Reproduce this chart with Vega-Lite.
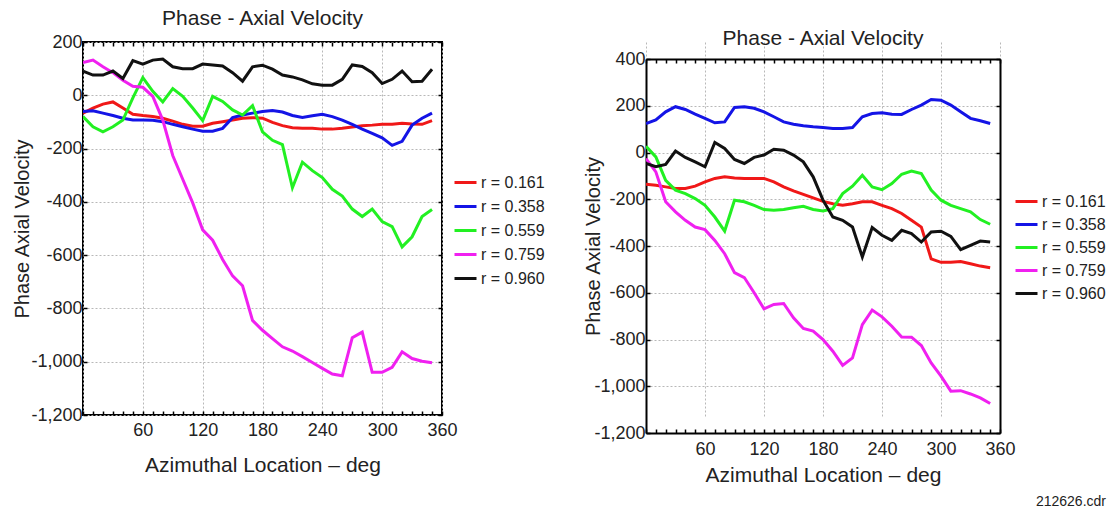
{
"$schema": "https://vega.github.io/schema/vega-lite/v6.json",
"background": "white",
"padding": {"left": 11, "top": 7, "right": 5, "bottom": 5},
"title": {"text": "212626.cdr", "orient": "bottom", "anchor": "end", "fontSize": 14, "font": "Liberation Sans", "fontWeight": "normal", "color": "#222", "offset": 10},
"datasets": {
"left": [
{"r":"r = 0.161","az":0,"v":-67},{"r":"r = 0.161","az":10,"v":-48},{"r":"r = 0.161","az":20,"v":-33},{"r":"r = 0.161","az":30,"v":-25},{"r":"r = 0.161","az":40,"v":-48},{"r":"r = 0.161","az":50,"v":-71},{"r":"r = 0.161","az":60,"v":-76},{"r":"r = 0.161","az":70,"v":-80},{"r":"r = 0.161","az":80,"v":-86},{"r":"r = 0.161","az":90,"v":-97},{"r":"r = 0.161","az":100,"v":-109},{"r":"r = 0.161","az":110,"v":-116},{"r":"r = 0.161","az":120,"v":-116},{"r":"r = 0.161","az":130,"v":-105},{"r":"r = 0.161","az":140,"v":-99},{"r":"r = 0.161","az":150,"v":-93},{"r":"r = 0.161","az":160,"v":-86},{"r":"r = 0.161","az":170,"v":-84},{"r":"r = 0.161","az":180,"v":-86},{"r":"r = 0.161","az":190,"v":-102},{"r":"r = 0.161","az":200,"v":-114},{"r":"r = 0.161","az":210,"v":-122},{"r":"r = 0.161","az":220,"v":-124},{"r":"r = 0.161","az":230,"v":-124},{"r":"r = 0.161","az":240,"v":-127},{"r":"r = 0.161","az":250,"v":-127},{"r":"r = 0.161","az":260,"v":-124},{"r":"r = 0.161","az":270,"v":-119},{"r":"r = 0.161","az":280,"v":-114},{"r":"r = 0.161","az":290,"v":-112},{"r":"r = 0.161","az":300,"v":-109},{"r":"r = 0.161","az":310,"v":-109},{"r":"r = 0.161","az":320,"v":-105},{"r":"r = 0.161","az":330,"v":-108},{"r":"r = 0.161","az":340,"v":-109},{"r":"r = 0.161","az":350,"v":-95},
{"r":"r = 0.358","az":0,"v":-61},{"r":"r = 0.358","az":10,"v":-58},{"r":"r = 0.358","az":20,"v":-67},{"r":"r = 0.358","az":30,"v":-76},{"r":"r = 0.358","az":40,"v":-86},{"r":"r = 0.358","az":50,"v":-93},{"r":"r = 0.358","az":60,"v":-93},{"r":"r = 0.358","az":70,"v":-94},{"r":"r = 0.358","az":80,"v":-99},{"r":"r = 0.358","az":90,"v":-109},{"r":"r = 0.358","az":100,"v":-118},{"r":"r = 0.358","az":110,"v":-127},{"r":"r = 0.358","az":120,"v":-135},{"r":"r = 0.358","az":130,"v":-135},{"r":"r = 0.358","az":140,"v":-124},{"r":"r = 0.358","az":150,"v":-84},{"r":"r = 0.358","az":160,"v":-74},{"r":"r = 0.358","az":170,"v":-67},{"r":"r = 0.358","az":180,"v":-61},{"r":"r = 0.358","az":190,"v":-57},{"r":"r = 0.358","az":200,"v":-63},{"r":"r = 0.358","az":210,"v":-76},{"r":"r = 0.358","az":220,"v":-83},{"r":"r = 0.358","az":230,"v":-77},{"r":"r = 0.358","az":240,"v":-71},{"r":"r = 0.358","az":250,"v":-80},{"r":"r = 0.358","az":260,"v":-93},{"r":"r = 0.358","az":270,"v":-109},{"r":"r = 0.358","az":280,"v":-127},{"r":"r = 0.358","az":290,"v":-143},{"r":"r = 0.358","az":300,"v":-160},{"r":"r = 0.358","az":310,"v":-188},{"r":"r = 0.358","az":320,"v":-173},{"r":"r = 0.358","az":330,"v":-112},{"r":"r = 0.358","az":340,"v":-86},{"r":"r = 0.358","az":350,"v":-67},
{"r":"r = 0.559","az":0,"v":-80},{"r":"r = 0.559","az":10,"v":-118},{"r":"r = 0.559","az":20,"v":-137},{"r":"r = 0.559","az":30,"v":-118},{"r":"r = 0.559","az":40,"v":-93},{"r":"r = 0.559","az":50,"v":-10},{"r":"r = 0.559","az":60,"v":66},{"r":"r = 0.559","az":70,"v":15},{"r":"r = 0.559","az":80,"v":-25},{"r":"r = 0.559","az":90,"v":25},{"r":"r = 0.559","az":100,"v":-4},{"r":"r = 0.559","az":110,"v":-48},{"r":"r = 0.559","az":120,"v":-95},{"r":"r = 0.559","az":130,"v":-4},{"r":"r = 0.559","az":140,"v":-23},{"r":"r = 0.559","az":150,"v":-55},{"r":"r = 0.559","az":160,"v":-74},{"r":"r = 0.559","az":170,"v":-39},{"r":"r = 0.559","az":180,"v":-137},{"r":"r = 0.559","az":190,"v":-169},{"r":"r = 0.559","az":200,"v":-185},{"r":"r = 0.559","az":210,"v":-347},{"r":"r = 0.559","az":220,"v":-251},{"r":"r = 0.559","az":230,"v":-283},{"r":"r = 0.559","az":240,"v":-309},{"r":"r = 0.559","az":250,"v":-353},{"r":"r = 0.559","az":260,"v":-378},{"r":"r = 0.559","az":270,"v":-427},{"r":"r = 0.559","az":280,"v":-455},{"r":"r = 0.559","az":290,"v":-427},{"r":"r = 0.559","az":300,"v":-474},{"r":"r = 0.559","az":310,"v":-493},{"r":"r = 0.559","az":320,"v":-569},{"r":"r = 0.559","az":330,"v":-531},{"r":"r = 0.559","az":340,"v":-455},{"r":"r = 0.559","az":350,"v":-429},
{"r":"r = 0.759","az":0,"v":123},{"r":"r = 0.759","az":10,"v":132},{"r":"r = 0.759","az":20,"v":107},{"r":"r = 0.759","az":30,"v":85},{"r":"r = 0.759","az":40,"v":56},{"r":"r = 0.759","az":50,"v":34},{"r":"r = 0.759","az":60,"v":30},{"r":"r = 0.759","az":70,"v":-4},{"r":"r = 0.759","az":80,"v":-93},{"r":"r = 0.759","az":90,"v":-226},{"r":"r = 0.759","az":100,"v":-315},{"r":"r = 0.759","az":110,"v":-404},{"r":"r = 0.759","az":120,"v":-505},{"r":"r = 0.759","az":130,"v":-544},{"r":"r = 0.759","az":140,"v":-616},{"r":"r = 0.759","az":150,"v":-678},{"r":"r = 0.759","az":160,"v":-715},{"r":"r = 0.759","az":170,"v":-845},{"r":"r = 0.759","az":180,"v":-882},{"r":"r = 0.759","az":190,"v":-913},{"r":"r = 0.759","az":200,"v":-944},{"r":"r = 0.759","az":210,"v":-960},{"r":"r = 0.759","az":220,"v":-981},{"r":"r = 0.759","az":230,"v":-1003},{"r":"r = 0.759","az":240,"v":-1025},{"r":"r = 0.759","az":250,"v":-1046},{"r":"r = 0.759","az":260,"v":-1053},{"r":"r = 0.759","az":270,"v":-910},{"r":"r = 0.759","az":280,"v":-889},{"r":"r = 0.759","az":290,"v":-1040},{"r":"r = 0.759","az":300,"v":-1040},{"r":"r = 0.759","az":310,"v":-1021},{"r":"r = 0.759","az":320,"v":-963},{"r":"r = 0.759","az":330,"v":-988},{"r":"r = 0.759","az":340,"v":-998},{"r":"r = 0.759","az":350,"v":-1004},
{"r":"r = 0.960","az":0,"v":91},{"r":"r = 0.960","az":10,"v":76},{"r":"r = 0.960","az":20,"v":76},{"r":"r = 0.960","az":30,"v":91},{"r":"r = 0.960","az":40,"v":63},{"r":"r = 0.960","az":50,"v":130},{"r":"r = 0.960","az":60,"v":117},{"r":"r = 0.960","az":70,"v":132},{"r":"r = 0.960","az":80,"v":136},{"r":"r = 0.960","az":90,"v":107},{"r":"r = 0.960","az":100,"v":100},{"r":"r = 0.960","az":110,"v":100},{"r":"r = 0.960","az":120,"v":117},{"r":"r = 0.960","az":130,"v":114},{"r":"r = 0.960","az":140,"v":110},{"r":"r = 0.960","az":150,"v":85},{"r":"r = 0.960","az":160,"v":53},{"r":"r = 0.960","az":170,"v":107},{"r":"r = 0.960","az":180,"v":113},{"r":"r = 0.960","az":190,"v":98},{"r":"r = 0.960","az":200,"v":76},{"r":"r = 0.960","az":210,"v":69},{"r":"r = 0.960","az":220,"v":58},{"r":"r = 0.960","az":230,"v":43},{"r":"r = 0.960","az":240,"v":38},{"r":"r = 0.960","az":250,"v":38},{"r":"r = 0.960","az":260,"v":60},{"r":"r = 0.960","az":270,"v":114},{"r":"r = 0.960","az":280,"v":108},{"r":"r = 0.960","az":290,"v":85},{"r":"r = 0.960","az":300,"v":44},{"r":"r = 0.960","az":310,"v":60},{"r":"r = 0.960","az":320,"v":91},{"r":"r = 0.960","az":330,"v":51},{"r":"r = 0.960","az":340,"v":53},{"r":"r = 0.960","az":350,"v":98}
],
"right": [
{"r":"r = 0.161","az":0,"v":-136},{"r":"r = 0.161","az":10,"v":-140},{"r":"r = 0.161","az":20,"v":-147},{"r":"r = 0.161","az":30,"v":-154},{"r":"r = 0.161","az":40,"v":-154},{"r":"r = 0.161","az":50,"v":-144},{"r":"r = 0.161","az":60,"v":-126},{"r":"r = 0.161","az":70,"v":-111},{"r":"r = 0.161","az":80,"v":-104},{"r":"r = 0.161","az":90,"v":-109},{"r":"r = 0.161","az":100,"v":-111},{"r":"r = 0.161","az":110,"v":-111},{"r":"r = 0.161","az":120,"v":-111},{"r":"r = 0.161","az":130,"v":-126},{"r":"r = 0.161","az":140,"v":-147},{"r":"r = 0.161","az":150,"v":-164},{"r":"r = 0.161","az":160,"v":-179},{"r":"r = 0.161","az":170,"v":-194},{"r":"r = 0.161","az":180,"v":-209},{"r":"r = 0.161","az":190,"v":-219},{"r":"r = 0.161","az":200,"v":-226},{"r":"r = 0.161","az":210,"v":-219},{"r":"r = 0.161","az":220,"v":-211},{"r":"r = 0.161","az":230,"v":-211},{"r":"r = 0.161","az":240,"v":-226},{"r":"r = 0.161","az":250,"v":-240},{"r":"r = 0.161","az":260,"v":-261},{"r":"r = 0.161","az":270,"v":-290},{"r":"r = 0.161","az":280,"v":-319},{"r":"r = 0.161","az":290,"v":-455},{"r":"r = 0.161","az":300,"v":-470},{"r":"r = 0.161","az":310,"v":-469},{"r":"r = 0.161","az":320,"v":-466},{"r":"r = 0.161","az":330,"v":-476},{"r":"r = 0.161","az":340,"v":-486},{"r":"r = 0.161","az":350,"v":-493},
{"r":"r = 0.358","az":0,"v":124},{"r":"r = 0.358","az":10,"v":139},{"r":"r = 0.358","az":20,"v":174},{"r":"r = 0.358","az":30,"v":196},{"r":"r = 0.358","az":40,"v":184},{"r":"r = 0.358","az":50,"v":164},{"r":"r = 0.358","az":60,"v":146},{"r":"r = 0.358","az":70,"v":127},{"r":"r = 0.358","az":80,"v":131},{"r":"r = 0.358","az":90,"v":193},{"r":"r = 0.358","az":100,"v":196},{"r":"r = 0.358","az":110,"v":189},{"r":"r = 0.358","az":120,"v":174},{"r":"r = 0.358","az":130,"v":153},{"r":"r = 0.358","az":140,"v":131},{"r":"r = 0.358","az":150,"v":121},{"r":"r = 0.358","az":160,"v":114},{"r":"r = 0.358","az":170,"v":110},{"r":"r = 0.358","az":180,"v":107},{"r":"r = 0.358","az":190,"v":103},{"r":"r = 0.358","az":200,"v":103},{"r":"r = 0.358","az":210,"v":107},{"r":"r = 0.358","az":220,"v":153},{"r":"r = 0.358","az":230,"v":167},{"r":"r = 0.358","az":240,"v":170},{"r":"r = 0.358","az":250,"v":164},{"r":"r = 0.358","az":260,"v":163},{"r":"r = 0.358","az":270,"v":184},{"r":"r = 0.358","az":280,"v":203},{"r":"r = 0.358","az":290,"v":227},{"r":"r = 0.358","az":300,"v":224},{"r":"r = 0.358","az":310,"v":203},{"r":"r = 0.358","az":320,"v":174},{"r":"r = 0.358","az":330,"v":146},{"r":"r = 0.358","az":340,"v":136},{"r":"r = 0.358","az":350,"v":124},
{"r":"r = 0.559","az":0,"v":27},{"r":"r = 0.559","az":10,"v":-19},{"r":"r = 0.559","az":20,"v":-119},{"r":"r = 0.559","az":30,"v":-161},{"r":"r = 0.559","az":40,"v":-176},{"r":"r = 0.559","az":50,"v":-197},{"r":"r = 0.559","az":60,"v":-226},{"r":"r = 0.559","az":70,"v":-276},{"r":"r = 0.559","az":80,"v":-336},{"r":"r = 0.559","az":90,"v":-204},{"r":"r = 0.559","az":100,"v":-211},{"r":"r = 0.559","az":110,"v":-226},{"r":"r = 0.559","az":120,"v":-244},{"r":"r = 0.559","az":130,"v":-247},{"r":"r = 0.559","az":140,"v":-244},{"r":"r = 0.559","az":150,"v":-236},{"r":"r = 0.559","az":160,"v":-230},{"r":"r = 0.559","az":170,"v":-244},{"r":"r = 0.559","az":180,"v":-250},{"r":"r = 0.559","az":190,"v":-240},{"r":"r = 0.559","az":200,"v":-176},{"r":"r = 0.559","az":210,"v":-144},{"r":"r = 0.559","az":220,"v":-97},{"r":"r = 0.559","az":230,"v":-147},{"r":"r = 0.559","az":240,"v":-159},{"r":"r = 0.559","az":250,"v":-133},{"r":"r = 0.559","az":260,"v":-93},{"r":"r = 0.559","az":270,"v":-79},{"r":"r = 0.559","az":280,"v":-90},{"r":"r = 0.559","az":290,"v":-161},{"r":"r = 0.559","az":300,"v":-204},{"r":"r = 0.559","az":310,"v":-226},{"r":"r = 0.559","az":320,"v":-240},{"r":"r = 0.559","az":330,"v":-254},{"r":"r = 0.559","az":340,"v":-287},{"r":"r = 0.559","az":350,"v":-307},
{"r":"r = 0.759","az":0,"v":-26},{"r":"r = 0.759","az":10,"v":-83},{"r":"r = 0.759","az":20,"v":-211},{"r":"r = 0.759","az":30,"v":-254},{"r":"r = 0.759","az":40,"v":-290},{"r":"r = 0.759","az":50,"v":-319},{"r":"r = 0.759","az":60,"v":-330},{"r":"r = 0.759","az":70,"v":-376},{"r":"r = 0.759","az":80,"v":-433},{"r":"r = 0.759","az":90,"v":-514},{"r":"r = 0.759","az":100,"v":-535},{"r":"r = 0.759","az":110,"v":-600},{"r":"r = 0.759","az":120,"v":-669},{"r":"r = 0.759","az":130,"v":-650},{"r":"r = 0.759","az":140,"v":-646},{"r":"r = 0.759","az":150,"v":-707},{"r":"r = 0.759","az":160,"v":-753},{"r":"r = 0.759","az":170,"v":-764},{"r":"r = 0.759","az":180,"v":-800},{"r":"r = 0.759","az":190,"v":-850},{"r":"r = 0.759","az":200,"v":-911},{"r":"r = 0.759","az":210,"v":-879},{"r":"r = 0.759","az":220,"v":-736},{"r":"r = 0.759","az":230,"v":-674},{"r":"r = 0.759","az":240,"v":-703},{"r":"r = 0.759","az":250,"v":-743},{"r":"r = 0.759","az":260,"v":-789},{"r":"r = 0.759","az":270,"v":-790},{"r":"r = 0.759","az":280,"v":-826},{"r":"r = 0.759","az":290,"v":-900},{"r":"r = 0.759","az":300,"v":-957},{"r":"r = 0.759","az":310,"v":-1021},{"r":"r = 0.759","az":320,"v":-1019},{"r":"r = 0.759","az":330,"v":-1033},{"r":"r = 0.759","az":340,"v":-1050},{"r":"r = 0.759","az":350,"v":-1074},
{"r":"r = 0.960","az":0,"v":-47},{"r":"r = 0.960","az":10,"v":-61},{"r":"r = 0.960","az":20,"v":-51},{"r":"r = 0.960","az":30,"v":6},{"r":"r = 0.960","az":40,"v":-21},{"r":"r = 0.960","az":50,"v":-40},{"r":"r = 0.960","az":60,"v":-61},{"r":"r = 0.960","az":70,"v":43},{"r":"r = 0.960","az":80,"v":17},{"r":"r = 0.960","az":90,"v":-30},{"r":"r = 0.960","az":100,"v":-47},{"r":"r = 0.960","az":110,"v":-21},{"r":"r = 0.960","az":120,"v":-11},{"r":"r = 0.960","az":130,"v":14},{"r":"r = 0.960","az":140,"v":10},{"r":"r = 0.960","az":150,"v":-11},{"r":"r = 0.960","az":160,"v":-40},{"r":"r = 0.960","az":170,"v":-104},{"r":"r = 0.960","az":180,"v":-204},{"r":"r = 0.960","az":190,"v":-276},{"r":"r = 0.960","az":200,"v":-290},{"r":"r = 0.960","az":210,"v":-319},{"r":"r = 0.960","az":220,"v":-447},{"r":"r = 0.960","az":230,"v":-321},{"r":"r = 0.960","az":240,"v":-354},{"r":"r = 0.960","az":250,"v":-376},{"r":"r = 0.960","az":260,"v":-333},{"r":"r = 0.960","az":270,"v":-347},{"r":"r = 0.960","az":280,"v":-383},{"r":"r = 0.960","az":290,"v":-340},{"r":"r = 0.960","az":300,"v":-337},{"r":"r = 0.960","az":310,"v":-359},{"r":"r = 0.960","az":320,"v":-416},{"r":"r = 0.960","az":330,"v":-397},{"r":"r = 0.960","az":340,"v":-379},{"r":"r = 0.960","az":350,"v":-383}
]
},
"spacing": 37,
"hconcat": [
{
"width": 359, "height": 373,
"data": {"name": "left"},
"title": {"text": "Phase - Axial Velocity", "offset": 4},
"layer": [
{"mark": {"type": "line", "strokeWidth": 3, "clip": true},
 "encoding": {
  "x": {"field": "az", "type": "quantitative", "scale": {"domain": [0, 360], "nice": false}, "title": "Azimuthal Location – deg",
        "axis": {"orient": "bottom", "values": [0,10,20,30,40,50,60,70,80,90,100,110,120,130,140,150,160,170,180,190,200,210,220,230,240,250,260,270,280,290,300,310,320,330,340,350,360],
                 "labelExpr": "datum.value % 60 === 0 && datum.value > 0 ? datum.label : ''",
                 "gridOpacity": {"condition": {"test": "datum.value % 60 === 0", "value": 1}, "value": 0},
                 "labelPadding": 10, "titlePadding": 15}},
  "y": {"field": "v", "type": "quantitative", "scale": {"domain": [-1200, 200], "nice": false}, "title": "Phase Axial Velocity",
        "axis": {"orient": "left", "values": [-1200,-1000,-800,-600,-400,-200,0,200],
                 "labelExpr": "replace(format(datum.value, ','), '\u2212', '-')",
                 "labelPadding": 5, "titlePadding": -2}},
  "color": {"field": "r", "type": "nominal", "title": null,
            "scale": {"domain": ["r = 0.161","r = 0.358","r = 0.559","r = 0.759","r = 0.960"], "range": ["#f01818","#1414e6","#22f022","#f020f0","#111111"]},
            "legend": {"orient": "none", "legendX": 370, "legendY": 128, "rowPadding": 3}}
 }},
{"mark": {"type": "line", "strokeOpacity": 0},
 "encoding": {
  "x": {"field": "az", "type": "quantitative", "scale": {"domain": [0, 360], "nice": false},
        "axis": {"orient": "top", "values": [0,10,20,30,40,50,60,70,80,90,100,110,120,130,140,150,160,170,180,190,200,210,220,230,240,250,260,270,280,290,300,310,320,330,340,350,360], "labels": false, "grid": false, "title": null}},
  "y": {"field": "v", "type": "quantitative", "scale": {"domain": [-1200, 200], "nice": false},
        "axis": {"orient": "right", "values": [-1200,-1000,-800,-600,-400,-200,0,200], "labels": false, "grid": false, "title": null}},
  "detail": {"field": "r", "type": "nominal"}
 }}
],
"resolve": {"axis": {"x": "independent", "y": "independent"}}
},
{
"width": 354, "height": 391,
"view": {"stroke": null},
"data": {"name": "right"},
"title": {"text": "Phase - Axial Velocity", "offset": -7},
"layer": [
{"mark": {"type": "line", "strokeWidth": 3, "clip": true},
 "encoding": {
  "x": {"field": "az", "type": "quantitative", "scale": {"domain": [0, 360], "nice": false}, "title": "Azimuthal Location – deg",
        "axis": {"orient": "bottom", "domain": true, "domainColor": "#000", "domainWidth": 2, "values": [0,10,20,30,40,50,60,70,80,90,100,110,120,130,140,150,160,170,180,190,200,210,220,230,240,250,260,270,280,290,300,310,320,330,340,350,360],
                 "labelExpr": "datum.value % 60 === 0 && datum.value > 0 ? datum.label : ''",
                 "gridOpacity": {"condition": {"test": "datum.value % 60 === 0", "value": 1}, "value": 0},
                 "labelPadding": 11, "titlePadding": 6}},
  "y": {"field": "v", "type": "quantitative", "scale": {"domain": [-1200, 400], "nice": false, "range": [391, 17]}, "title": "Phase Axial Velocity",
        "axis": {"orient": "left", "domain": true, "domainColor": "#000", "domainWidth": 2, "values": [-1200,-1000,-800,-600,-400,-200,0,200,400],
                 "labelExpr": "replace(format(datum.value, ','), '\u2212', '-')",
                 "labelPadding": 5, "titlePadding": -10}},
  "color": {"field": "r", "type": "nominal", "title": null,
            "scale": {"domain": ["r = 0.161","r = 0.358","r = 0.559","r = 0.759","r = 0.960"], "range": ["#f01818","#1414e6","#22f022","#f020f0","#111111"]},
            "legend": {"orient": "none", "legendX": 368, "legendY": 147, "rowPadding": 2}}
 }},
{"mark": {"type": "line", "strokeOpacity": 0},
 "encoding": {
  "x": {"field": "az", "type": "quantitative", "scale": {"domain": [0, 360], "nice": false},
        "axis": {"orient": "top", "offset": -17, "domain": true, "domainColor": "#000", "domainWidth": 2, "values": [0,10,20,30,40,50,60,70,80,90,100,110,120,130,140,150,160,170,180,190,200,210,220,230,240,250,260,270,280,290,300,310,320,330,340,350,360], "labels": false, "grid": false, "title": null}},
  "y": {"field": "v", "type": "quantitative", "scale": {"domain": [-1200, 400], "nice": false, "range": [391, 17]},
        "axis": {"orient": "right", "domain": true, "domainColor": "#000", "domainWidth": 2, "values": [-1200,-1000,-800,-600,-400,-200,0,200,400], "labels": false, "grid": false, "title": null}},
  "detail": {"field": "r", "type": "nominal"}
 }}
],
"resolve": {"axis": {"x": "independent", "y": "independent"}}
}
],
"resolve": {"scale": {"color": "independent"}, "legend": {"color": "independent"}},
"config": {
 "font": "Liberation Sans",
 "view": {"stroke": "#000", "strokeWidth": 2},
 "title": {"font": "Liberation Sans", "fontSize": 21, "fontWeight": "normal", "color": "#222", "anchor": "middle"},
 "axis": {"domain": false, "labelFont": "Liberation Sans", "labelFontSize": 18, "labelColor": "#222", "labelFlush": false, "labelOverlap": false,
          "titleFont": "Liberation Sans", "titleFontWeight": "normal", "titleColor": "#222",
          "gridColor": "#b8b8b8", "gridDash": [2, 2], "gridWidth": 1,
          "tickColor": "#000", "tickSize": -4, "tickWidth": 1.5},
 "axisX": {"titleFontSize": 21},
 "axisY": {"titleFontSize": 20},
 "legend": {"labelFont": "Liberation Sans", "labelFontSize": 16, "labelColor": "#222", "symbolType": "stroke", "symbolSize": 484, "symbolStrokeWidth": 3, "labelOffset": 3}
}
}
